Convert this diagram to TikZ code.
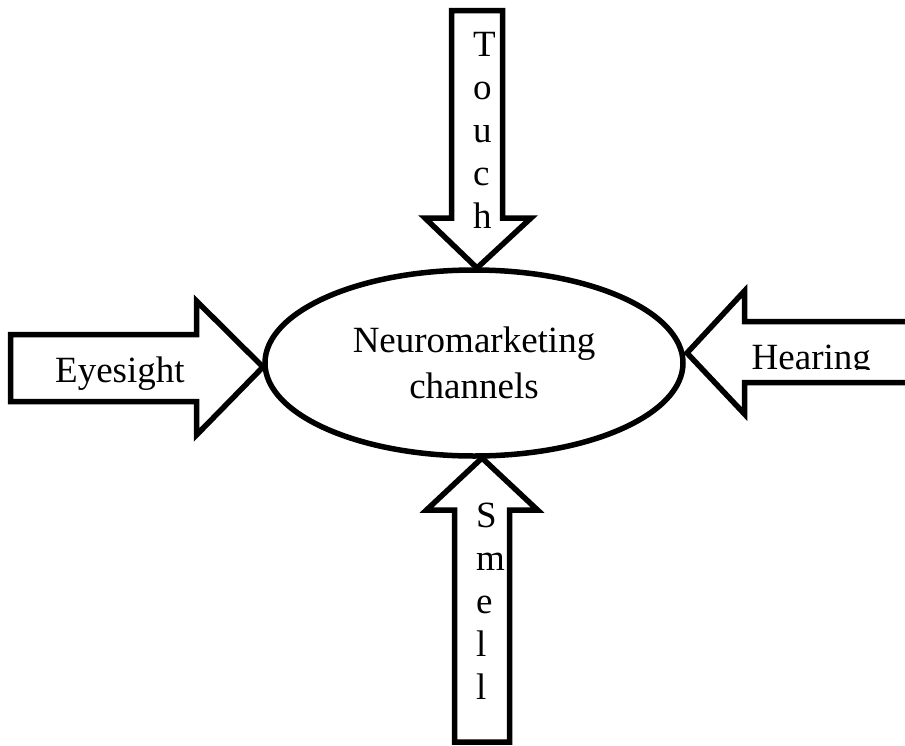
\documentclass[tikz,border=0pt]{standalone}
\usepackage{fontspec}
\setmainfont{Liberation Serif}
\usetikzlibrary{shapes.geometric}
\tikzset{
  arrowshape/.style={draw=black,fill=white,line width=5.5pt,miter limit=10},
  label/.style={inner sep=0pt,font=\fontsize{37}{43}\selectfont},
  vlabel/.style={label,align=left,anchor=north west}
}
\begin{document}
\begin{tikzpicture}[x=1pt,y=-1pt]
\useasboundingbox (0,0) rectangle (905,745);
\fill[white] (0,0) rectangle (905,745);
\node[draw=black,line width=5.5pt,shape=ellipse,minimum width=418pt,minimum height=186pt,inner sep=0pt,
      label,align=center] (core) at (474,363) {\raisebox{-1pt}{Neuromarketing}\\[3pt]\raisebox{-1pt}{channels}};
% Touch
\draw[arrowshape] (451.5,10.5) -- (502.5,10.5) -- (502.5,218) -- (531,218) -- (477,268) -- (425,218) -- (451.5,218) -- cycle;
% Smell
\draw[arrowshape] (454.5,742) -- (509.5,742) -- (509.5,510) -- (537.5,510) -- (482,458) -- (426.5,510) -- (454.5,510) -- cycle;
% Eyesight
\draw[arrowshape] (10.5,334.5) -- (196.5,334.5) -- (196.5,301) -- (263,367) -- (196.5,435) -- (196.5,401.5) -- (10.5,401.5) -- cycle;
% Hearing
\fill[white] (905,321.5) -- (744.5,321.5) -- (744.5,291) -- (687,353) -- (744.5,414) -- (744.5,382.5) -- (905,382.5) -- cycle;
\draw[arrowshape,fill=none] (905,321.5) -- (744.5,321.5) -- (744.5,291) -- (687,353) -- (744.5,414) -- (744.5,382.5) -- (905,382.5);
\node[vlabel] (touch) at (473,32) {T\\o\\u\\c\\h};
\node[vlabel] (smell) at (476,503) {S\\m\\e\\l\\l};
\node[label,anchor=base west] (eye) at (55,382) {Eyesight};
\begin{scope}
\clip (745,330) rectangle (900,369);
\node[label,anchor=base west] (hear) at (751.5,369) {Hearing};
\end{scope}
\end{tikzpicture}
\end{document}
